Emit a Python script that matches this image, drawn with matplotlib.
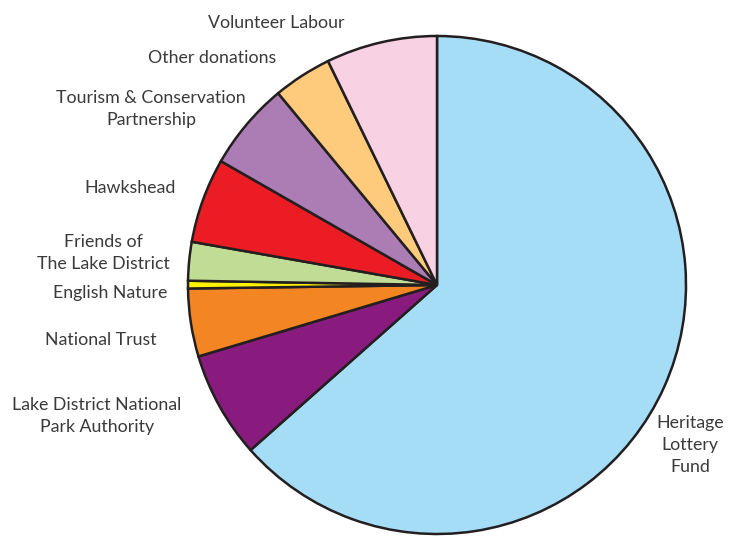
import matplotlib.pyplot as plt

# funding shares (percent), clockwise from 12 o'clock
sources = ['Heritage\nLottery\nFund', 'Lake District National\nPark Authority',
           'National Trust', 'English Nature', 'Friends of\nThe Lake District',
           'Hawkshead', 'Tourism & Conservation\nPartnership', 'Other donations',
           'Volunteer Labour']
shares = [63.4, 6.9, 4.4, 0.5, 2.5, 5.5, 5.7, 3.8, 7.2]
colors = ['#A6DDF6', '#8A1B7E', '#F38622', '#FFF200', '#C1DD95',
          '#EC1C24', '#AC7DB4', '#FDCB7B', '#F8D1E3']

# label anchors in pixel coords (x, y from top) and alignment
label_pos = [(690, 445, 'center'), (97, 416, 'center'), (157, 340, 'right'),
             (167, 293, 'right'), (103, 253, 'center'), (176, 188, 'right'),
             (151, 109, 'center'), (276, 58, 'right'), (345, 23, 'right')]

W, H = 731, 536
fig = plt.figure(figsize=(W / 100, H / 100), dpi=100)
ax = fig.add_axes([0, 0, 1, 1])

ax.pie(shares, colors=colors, startangle=90, counterclock=False,
       center=(437, H - 285), radius=249, frame=True,
       wedgeprops=dict(edgecolor='#231F20', linewidth=1.8))
ax.set_xlim(0, W)
ax.set_ylim(0, H)
ax.set_aspect('equal')
ax.axis('off')

for name, (x, y, ha) in zip(sources, label_pos):
    ax.text(x, H - y, name, ha=ha, va='center', fontsize=12.8,
            family='Lato', color='#3a3a3a', multialignment='center',
            linespacing=1.45)

fig.savefig('out.png', dpi=100)
